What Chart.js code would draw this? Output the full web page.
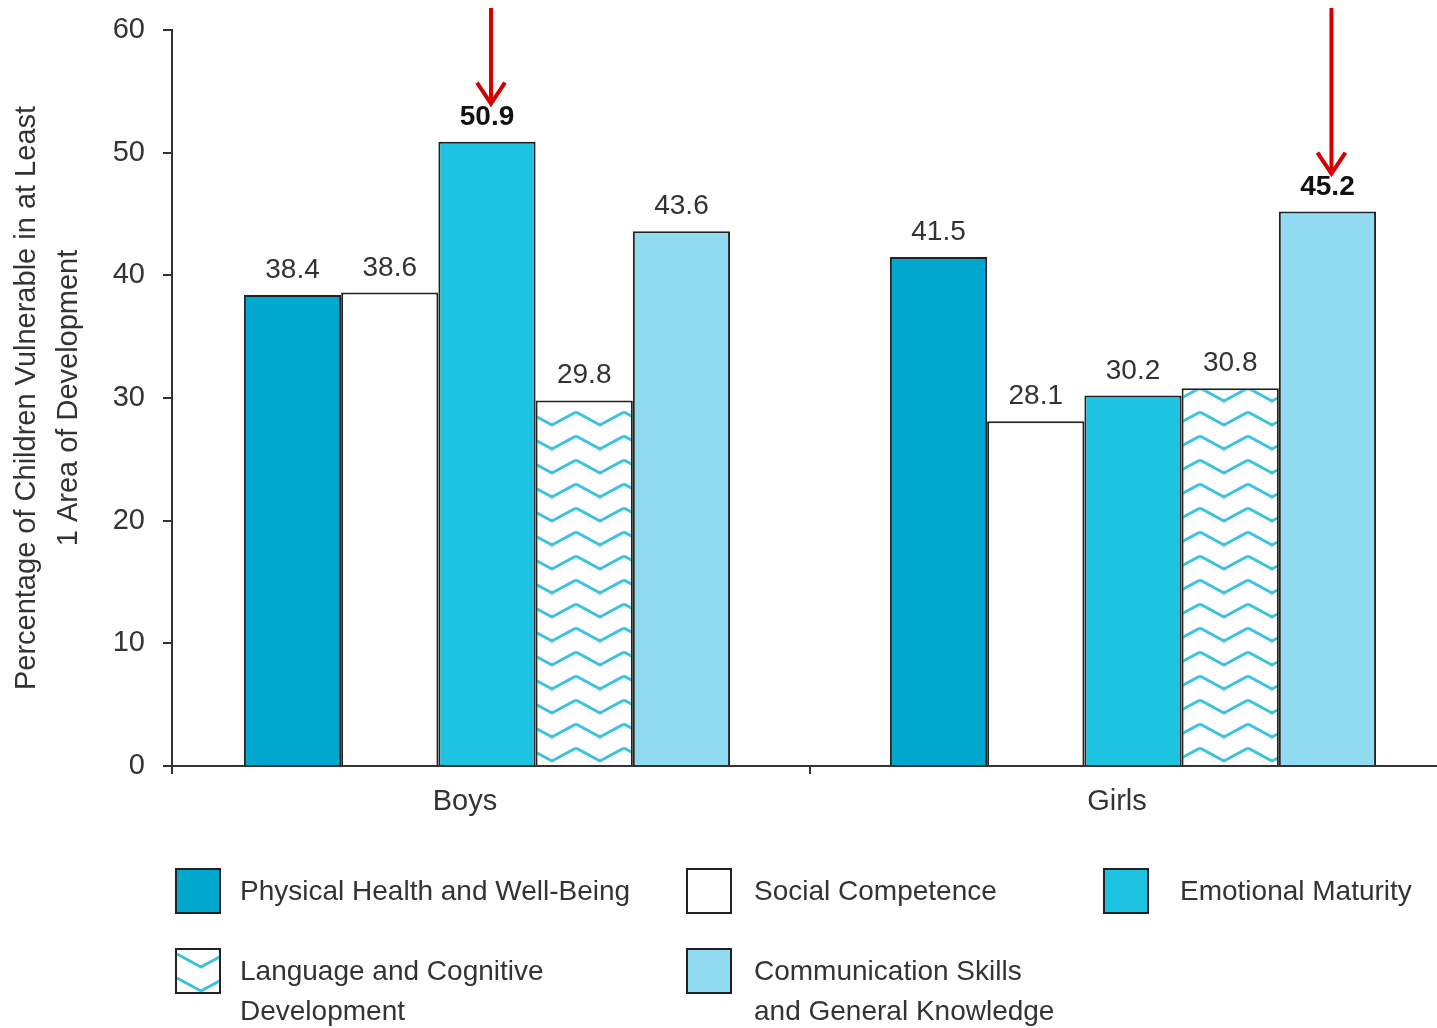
<!DOCTYPE html>
<html><head><meta charset="utf-8">
<script src="https://cdn.jsdelivr.net/npm/chart.js@4.4.1/dist/chart.umd.min.js"></script>
<style>
html,body{margin:0;padding:0;background:#fff;}
#wrap{position:relative;width:1437px;height:1028px;overflow:hidden;}
#c{position:absolute;left:0;top:0;}
.lg{position:absolute;font-family:'Liberation Sans',Arial,sans-serif;font-size:28px;color:#333;line-height:40px;white-space:nowrap;}
.sw{position:absolute;width:42px;height:42px;border:2px solid #222;}
</style></head>
<body><div id="wrap"><canvas id="c" width="1437" height="1028"></canvas>
<div id="legend"></div></div>
<script>
const categories = ['Boys', 'Girls'];
const seriesNames = ['Physical Health and Well-Being', 'Social Competence', 'Emotional Maturity', 'Language and Cognitive Development', 'Communication Skills and General Knowledge'];
const legendLines = [['Physical Health and Well-Being'], ['Social Competence'], ['Emotional Maturity'], ['Language and Cognitive', 'Development'], ['Communication Skills', 'and General Knowledge']];
const physical = [38.4, 41.5];
const social = [38.6, 28.1];
const emotional = [50.9, 30.2];
const language = [29.8, 30.8];
const communication = [43.6, 45.2];
const yTicks = [0, 10, 20, 30, 40, 50, 60];
const highlighted = [[2, 0], [4, 1]]; // [series, category]

const FONT = "'Liberation Sans',Arial,sans-serif";
const TXT = '#333';

function zigzag(){
  const p = document.createElement('canvas');
  p.width = 48; p.height = 24;
  const g = p.getContext('2d');
  g.fillStyle = '#fff'; g.fillRect(0,0,48,24);
  g.strokeStyle = '#3cc2dc'; g.lineWidth = 3; g.lineJoin='round';
  for (const off of [-24, 0, 24]) {
    g.beginPath();
    g.moveTo(0, 4+off); g.lineTo(24, 17+off); g.lineTo(48, 4+off);
    g.stroke();
  }
  return p;
}
const zz = zigzag();
const ctx = document.getElementById('c').getContext('2d');
const hatch = ctx.createPattern(zz, 'repeat');
const fills = ['#00a8d0', '#ffffff', '#1ec3e1', hatch, '#91dbf2'];
const values = [physical, social, emotional, language, communication];

const labelPlugin = {
  id: 'labels',
  afterDatasetsDraw(chart) {
    const c = chart.ctx;
    c.save();
    c.textAlign = 'center';
    chart.data.datasets.forEach((ds, di) => {
      chart.getDatasetMeta(di).data.forEach((bar, ci) => {
        const hl = highlighted.some(h => h[0] === di && h[1] === ci);
        c.font = (hl ? 'bold ' : '') + '28px ' + FONT;
        c.fillStyle = hl ? '#111' : TXT;
        c.fillText(values[di][ci].toFixed(1), bar.x, bar.y - 17);
        if (hl) {
          c.strokeStyle = '#d60000'; c.lineWidth = 4; c.lineCap = 'butt';
          const ax = bar.x + 4;
          const tip = bar.y - 38;
          c.beginPath(); c.moveTo(ax, 8); c.lineTo(ax, tip); c.stroke();
          c.beginPath(); c.moveTo(ax - 14, tip - 21); c.lineTo(ax, tip); c.lineTo(ax + 14, tip - 21); c.stroke();
        }
      });
    });
    // category labels
    c.font = '29px ' + FONT; c.fillStyle = TXT; c.textBaseline = 'middle';
    const xs = chart.scales.x;
    const shift = [-22, -16];
    categories.forEach((cat, i) => {
      c.fillText(cat, xs.getPixelForValue(i) + shift[i], xs.top + 36);
    });
    c.restore();
  }
};

new Chart(ctx, {
  type: 'bar',
  data: {
    datasets: seriesNames.map((n, i) => ({
      label: n,
      data: categories.map((cat, ci) => ({ x: ci, y: values[i][ci] })),
      backgroundColor: fills[i],
      borderColor: '#222', borderWidth: 2,
      categoryPercentage: 0.762, barPercentage: 1.0
    }))
  },
  options: {
    responsive: false, animation: false,
    layout: { padding: { top: 30, right: 0, left: 0, bottom: 0 } },
    plugins: { legend: { display: false }, tooltip: { enabled: false } },
    scales: {
      x: {
        type: 'linear', offset: false, grace: 0,
        min: -0.4876, max: 1.4706,
        afterBuildTicks(s) { s.ticks = [{ value: s.min }, { value: 0.5 }]; },
        grid: { display: true, drawOnChartArea: false, drawTicks: true, tickLength: 8, color: '#333', lineWidth: 2, offset: false },
        border: { display: true, color: '#333', width: 2 },
        ticks: { display: false },
        afterFit(s) { s.height = 262; s.paddingLeft = 0; s.paddingRight = 0; }
      },
      y: {
        min: 0, max: 60,
        afterBuildTicks(s) { s.ticks = yTicks.map(v => ({ value: v })); },
        grid: { display: true, drawOnChartArea: false, drawTicks: true, tickLength: 9, color: '#333', lineWidth: 2 },
        border: { display: true, color: '#333', width: 2 },
        ticks: { font: { family: FONT, size: 29 }, color: TXT, padding: 18 },
        title: { display: true, text: ['Percentage of Children Vulnerable in at Least', '1 Area of Development'], font: { family: FONT, size: 29, lineHeight: 1.45 }, color: TXT, padding: { top: 6, bottom: 0 } },
        afterFit(s) { s.width = 172; s.paddingTop = 0; s.paddingBottom = 0; }
      }
    }
  },
  plugins: [labelPlugin]
});

// HTML legend
const lg = document.getElementById('legend');
const pos = [[175, 868], [686, 868], [1103, 868], [175, 948], [686, 948]];
legendLines.forEach((lines, i) => {
  const sw = document.createElement('div');
  sw.className = 'sw';
  sw.style.left = pos[i][0] + 'px'; sw.style.top = pos[i][1] + 'px';
  if (i === 3) {
    const cv = document.createElement('canvas'); cv.width = 42; cv.height = 42;
    const g = cv.getContext('2d'); g.fillStyle = g.createPattern(zz, 'repeat'); g.fillRect(0,0,42,42);
    cv.style.display = 'block';
    sw.appendChild(cv);
  } else sw.style.background = fills[i];
  lg.appendChild(sw);
  const t = document.createElement('div');
  t.className = 'lg';
  t.style.left = (pos[i][0] + (i === 2 ? 77 : i % 3 === 1 ? 68 : 65)) + 'px';
  t.style.top = (pos[i][1] + 3) + 'px';
  t.innerHTML = lines.join('<br>');
  lg.appendChild(t);
});
</script></body></html>
